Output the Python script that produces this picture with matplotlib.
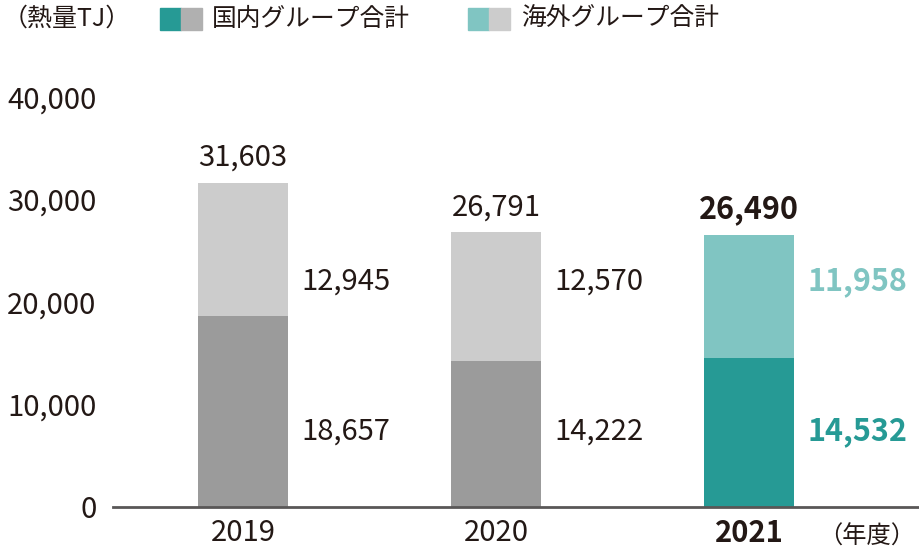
import matplotlib
matplotlib.use("Agg")
import matplotlib.pyplot as plt
from matplotlib.patches import Rectangle

plt.rcParams['font.family'] = ['Noto Sans CJK JP', 'DejaVu Sans']

years = ['2019', '2020', '2021']
domestic = [18657, 14222, 14532]
overseas = [12945, 12570, 11958]
totals = [31603, 26791, 26490]
yticks = [0, 10000, 20000, 30000, 40000]

dom_colors = ['#9b9b9b', '#9b9b9b', '#269a95']
ovs_colors = ['#cccccc', '#cccccc', '#80c5c2']
dark = '#231815'

fig = plt.figure(figsize=(9.2, 5.55), dpi=100)
ax = fig.add_axes([113/920, 1-507/555, 807/920, (507-97)/555])

x = range(len(years))
ax.bar(x, domestic, width=0.356, color=dom_colors, zorder=2)
ax.bar(x, overseas, width=0.356, bottom=domestic, color=ovs_colors, zorder=2)

ax.set_xlim(-0.514, 2.676)
ax.set_ylim(0, 40000)
for s in ['top', 'right', 'left']:
    ax.spines[s].set_visible(False)
ax.spines['bottom'].set_color('#595757')
ax.spines['bottom'].set_linewidth(2)
ax.tick_params(axis='both', length=0, labelsize=21, colors=dark)
ax.tick_params(axis='y', pad=12)
ax.tick_params(axis='x', pad=8)
ax.set_yticks(yticks)
ax.set_yticklabels([f'{v:,}' for v in yticks])
ax.set_xticks(list(x))
ax.set_xticklabels(years)
ax.get_xticklabels()[2].set_fontweight('bold')

for i in x:
    bold = (i == 2)
    w = 'bold' if bold else 'normal'
    fs = 22 if bold else 21
    ax.text(i, totals[i] + 1000, f'{totals[i]:,}', ha='center', va='bottom',
            fontsize=fs, color=dark, fontweight=w)
    ax.text(i + 0.23, 22000, f'{overseas[i]:,}', ha='left', va='center',
            fontsize=fs, color=ovs_colors[i] if bold else dark, fontweight=w)
    ax.text(i + 0.23, 7400, f'{domestic[i]:,}', ha='left', va='center',
            fontsize=fs, color=dom_colors[i] if bold else dark, fontweight=w)

fig.text(915/920, 1-537/555, '（年度）', ha='right', va='center', fontsize=17.5, color=dark)

# legend
fig.text(3/920, 1-19/555, '（熱量TJ）', ha='left', va='center', fontsize=18, color=dark)
sq_h = 22/555
for x0, c in [(160, '#269a95'), (181, '#b0b0b0'), (468, '#80c5c2'), (489, '#cccccc')]:
    fig.patches.append(Rectangle((x0/920, 1-30/555), 21/920, sq_h,
                                 transform=fig.transFigure, color=c))
fig.text(212/920, 1-19/555, '国内グループ合計', ha='left', va='center', fontsize=17.8, color=dark)
fig.text(521/920, 1-19/555, '海外グループ合計', ha='left', va='center', fontsize=17.8, color=dark)

fig.savefig('out.png', dpi=100)
